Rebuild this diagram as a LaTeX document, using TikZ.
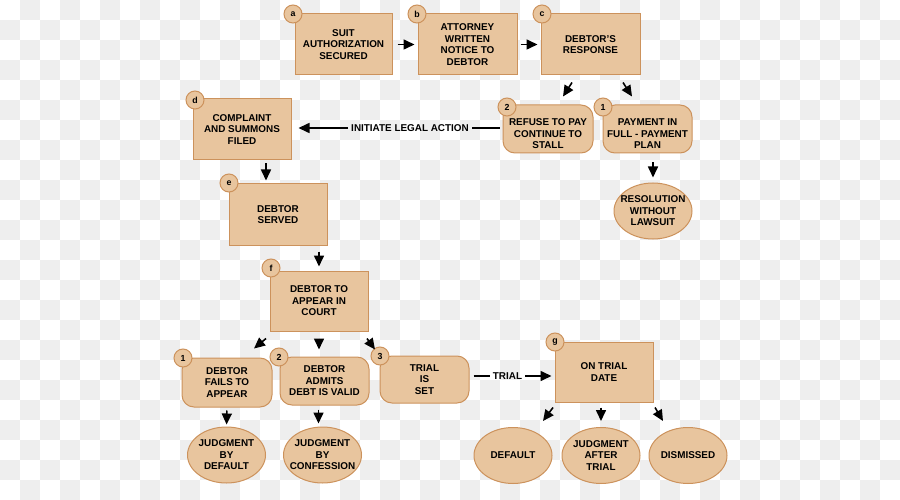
\documentclass[tikz,border=0pt]{standalone}
\usepackage{fontspec}
\setmainfont{Liberation Sans}
\usetikzlibrary{shapes.geometric,arrows.meta,calc}
\definecolor{boxfill}{RGB}{232,197,158}
\definecolor{boxline}{RGB}{204,146,92}
\definecolor{chk}{RGB}{238,238,238}
\newcommand{\dnstrut}{\rule{0pt}{17pt}}
\tikzset{
  txt/.style={font=\fontsize{9.9}{11.5}\selectfont\bfseries, align=center, text=black},
  sqbox/.style={txt, rectangle, draw=boxline, fill=boxfill, line width=1pt, inner sep=0pt},
  rbox/.style={sqbox, rounded corners=12pt},
  oval/.style={txt, ellipse, draw=boxline, fill=boxfill, line width=1pt, inner ysep=0pt, inner xsep=-9pt, minimum width=78, minimum height=56},
  badge/.style={circle, draw=boxline, fill=boxfill, line width=1pt, inner sep=0pt, minimum size=18, font=\fontsize{8.8}{9}\selectfont\bfseries},
  arr/.style={-{Triangle[length=11pt,width=10pt]}, line width=1.6pt, black},
  ln/.style={line width=1.6pt, black},
  lbl/.style={txt, inner sep=3pt}
}
\begin{document}
\begin{tikzpicture}[x=1pt,y=-1pt]
\useasboundingbox (0,0) rectangle (900,500);
% checkerboard background
\foreach \i in {0,...,44}{
  \foreach \j in {0,...,24}{
    \pgfmathtruncatemacro\parity{mod(\i+\j,2)}
    \ifnum\parity=1 \fill[chk] (\i*20,\j*20) rectangle ++(20,20); \fi
  }
}
% square boxes
\node[sqbox, minimum width=97, minimum height=61] (a) at (343.5,44.5) {SUIT\\AUTHORIZATION\\SECURED};
\node[sqbox, minimum width=99, minimum height=61] (b) at (467.5,44.5) {ATTORNEY\\WRITTEN\\NOTICE TO\\DEBTOR};
\node[sqbox, minimum width=99, minimum height=61] (c) at (590.5,44.5) {DEBTOR'S\\RESPONSE};
\node[sqbox, minimum width=98, minimum height=61] (d) at (242,129.5) {COMPLAINT\\AND SUMMONS\\FILED};
\node[sqbox, minimum width=98, minimum height=61] (e) at (278,214.5) {DEBTOR\\SERVED};
\node[sqbox, minimum width=98, minimum height=60] (f) at (319,301) {DEBTOR TO\\APPEAR IN\\COURT};
\node[sqbox, minimum width=98, minimum height=60] (g) at (604,372) {ON TRIAL\\DATE};
% rounded boxes
\node[rbox, minimum width=90, minimum height=48] (refuse) at (548,129) {\dnstrut REFUSE TO PAY\\CONTINUE TO\\STALL};
\node[rbox, minimum width=89, minimum height=48] (payment) at (647.5,129) {\dnstrut PAYMENT IN\\FULL - PAYMENT\\PLAN};
\node[rbox, minimum width=90, minimum height=49] (fails) at (227,382.5) {DEBTOR\\FAILS TO\\APPEAR};
\node[rbox, minimum width=89, minimum height=48] (admits) at (324.5,381) {DEBTOR\\ADMITS\\DEBT IS VALID};
\node[rbox, minimum width=89, minimum height=47] (trial) at (424.5,379.5) {TRIAL\\IS\\SET};
% ovals
\node[oval] (res) at (653,211) {RESOLUTION\\WITHOUT\\LAWSUIT};
\node[oval] (jdef) at (226.5,455) {JUDGMENT\\BY\\DEFAULT};
\node[oval] (jconf) at (322.5,455) {JUDGMENT\\BY\\CONFESSION};
\node[oval] (default) at (513,455.5) {DEFAULT};
\node[oval] (jat) at (601,455.5) {JUDGMENT\\AFTER\\TRIAL};
\node[oval] (dismissed) at (688,455.5) {DISMISSED};
% badges
\node[badge] (ba) at (293,14) {a};
\node[badge] (bb) at (417,14) {b};
\node[badge] (bc) at (542,14) {c};
\node[badge] (bd) at (195,100) {d};
\node[badge] (be) at (229,183) {e};
\node[badge] (bf) at (271,268) {f};
\node[badge] (bg) at (555,342) {g};
\node[badge] (b2r) at (507,107) {2};
\node[badge] (b1p) at (603,107) {1};
\node[badge] (b1f) at (183,358) {1};
\node[badge] (b2a) at (279,357) {2};
\node[badge] (b3t) at (380,356) {3};
% labels
\node[lbl] (legal) at (410,128) {INITIATE LEGAL ACTION};
\node[lbl] (triallbl) at (507.5,376) {TRIAL};
% connectors
\draw[arr, shorten <=5pt, shorten >=3pt] (a) -- (b);
\draw[arr, shorten <=3pt, shorten >=3pt] (b) -- (c);
\draw[arr] ($(c.south)+(-18.5,7)$) -- ($(refuse.north)+(15,-8)$);
\draw[arr] ($(c.south)+(32.5,7)$) -- ($(payment.north)+(-15.5,-8)$);
\draw[ln, shorten <=3pt] (refuse.west |- legal.east) -- (legal.east);
\draw[arr, shorten >=7pt] (legal.west) -- (d.east |- legal.west);
\draw[arr, shorten <=9pt, shorten >=5pt] (res.north |- payment.south) -- (res.north);
\draw[arr] ($(d.south)+(24,3)$) -- ($(e.north)+(-12,-3)$);
\draw[arr, shorten <=6pt, shorten >=4pt] (f.north |- e.south) -- (f.north);
\draw[arr] ($(f.south)+(-53,7)$) -- ($(fails.north)+(27,-9)$);
\draw[arr, shorten <=7pt, shorten >=7pt] (f.south) -- (f.south |- admits.north);
\draw[arr] ($(f.south)+(48,7)$) -- ($(trial.north)+(-49.5,-6)$);
\draw[arr, shorten <=3pt, shorten >=2pt] (fails.south) -- (jdef.north);
\draw[arr] ($(admits.south)+(-6,4)$) -- ($(jconf.north)+(-4,-3)$);
\draw[ln, shorten <=4pt] (trial.east |- triallbl.west) -- (triallbl.west);
\draw[arr, shorten >=3pt] (triallbl.east) -- (g.west |- triallbl.east);
\draw[arr] ($(g.south)+(-51,5)$) -- ($(default.north)+(30,-6)$);
\draw[arr] ($(g.south)+(-3,5)$) -- ($(jat.north)+(0,-6)$);
\draw[arr] ($(g.south)+(51,5)$) -- ($(dismissed.north)+(-25,-6)$);
\end{tikzpicture}
\end{document}
